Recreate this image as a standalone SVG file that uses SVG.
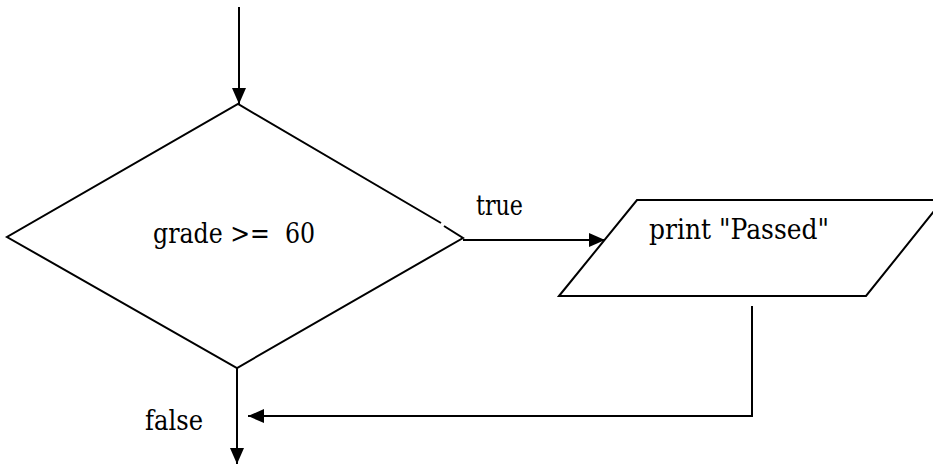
<svg xmlns="http://www.w3.org/2000/svg" width="933" height="465" viewBox="0 0 933 465">
<defs>
<style>
.ln{fill:none;stroke:#000;stroke-width:2}
.sh{fill:#fff;stroke:#000;stroke-width:2}
.tx{white-space:pre;font-family:"DejaVu Serif","Liberation Serif",serif;font-size:27px;fill:#000}
</style>
<marker id="ah" markerWidth="16" markerHeight="14" refX="16" refY="7" orient="auto" markerUnits="userSpaceOnUse">
<path d="M0,0 L16,7 L0,14 Z" fill="#000"/>
</marker>
</defs>
<rect width="933" height="465" fill="#fff"/>
<g id="decision">
<polyline class="ln" points="441,223 238,104 7,237 237,368 463,238 444,226"/>
<text class="tx" x="153" y="243" xml:space="preserve" textLength="162" lengthAdjust="spacingAndGlyphs">grade &gt;=  60</text>
</g>
<g id="output">
<polygon class="sh" points="559,296 637,200 943,200 866,296"/>
<text class="tx" x="649" y="239" textLength="180" lengthAdjust="spacingAndGlyphs">print "Passed"</text>
</g>
<g id="connectors">
<line class="ln" x1="239" y1="7" x2="239" y2="104" marker-end="url(#ah)"/>
<line class="ln" x1="463" y1="240" x2="605" y2="240" marker-end="url(#ah)"/>
<text class="tx" x="476" y="215" textLength="47" lengthAdjust="spacingAndGlyphs">true</text>
<line class="ln" x1="237" y1="368" x2="237" y2="464" marker-end="url(#ah)"/>
<text class="tx" x="145" y="430" textLength="58" lengthAdjust="spacingAndGlyphs">false</text>
<polyline class="ln" points="752,306 752,416 248,416" marker-end="url(#ah)"/>
</g>
</svg>
